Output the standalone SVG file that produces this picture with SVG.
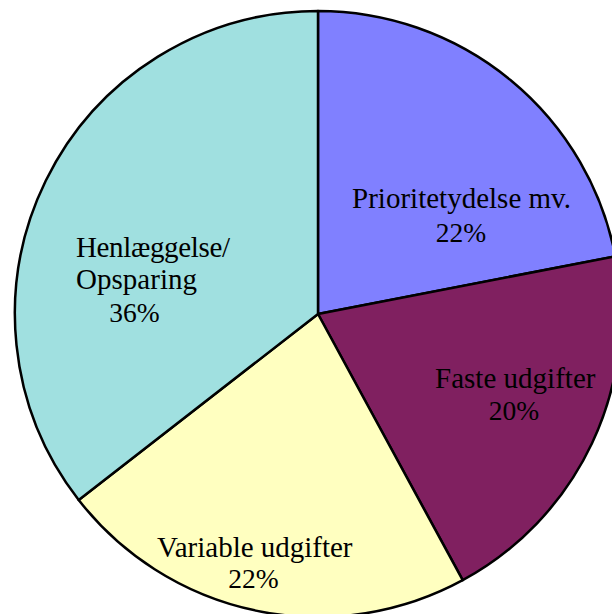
<svg xmlns="http://www.w3.org/2000/svg" width="612" height="614" viewBox="0 0 612 614">
<style>
.slice{stroke:#000;stroke-width:2.5;stroke-linejoin:round}
.lbl{font-family:"Liberation Serif","Times New Roman",serif;font-size:29px;fill:#000}
.pct{font-family:"Liberation Serif","Times New Roman",serif;font-size:27.5px;fill:#000;text-anchor:middle}
</style>
<rect width="612" height="614" fill="#fff"/>
<g id="prioritetydelse">
<path class="slice" fill="#8080FF" d="M318,314 L318,11 A303,303 0 0 1 615.4,256.3 Z"/>
<text class="lbl" x="352" y="208" textLength="219">Prioritetydelse mv.</text>
<text class="pct" x="461" y="242">22%</text>
</g>
<g id="faste">
<path class="slice" fill="#802060" d="M318,314 L615.4,256.3 A303,303 0 0 1 462.7,580.2 Z"/>
<text class="lbl" x="435" y="388" textLength="160.5">Faste udgifter</text>
<text class="pct" x="514" y="420">20%</text>
</g>
<g id="variable">
<path class="slice" fill="#FFFFC0" d="M318,314 L462.7,580.2 A303,303 0 0 1 78.7,500 Z"/>
<text class="lbl" x="157" y="557" textLength="195.5">Variable udgifter</text>
<text class="pct" x="253.5" y="588">22%</text>
</g>
<g id="henlaeggelse">
<path class="slice" fill="#A0E0E0" d="M318,314 L78.7,500 A303,303 0 0 1 318,11 Z"/>
<text class="lbl" x="76" y="257" textLength="154">Henlæggelse/</text>
<text class="lbl" x="76" y="289" textLength="121">Opsparing</text>
<text class="pct" x="134.5" y="322">36%</text>
</g>
<g id="connectors"/>
</svg>
